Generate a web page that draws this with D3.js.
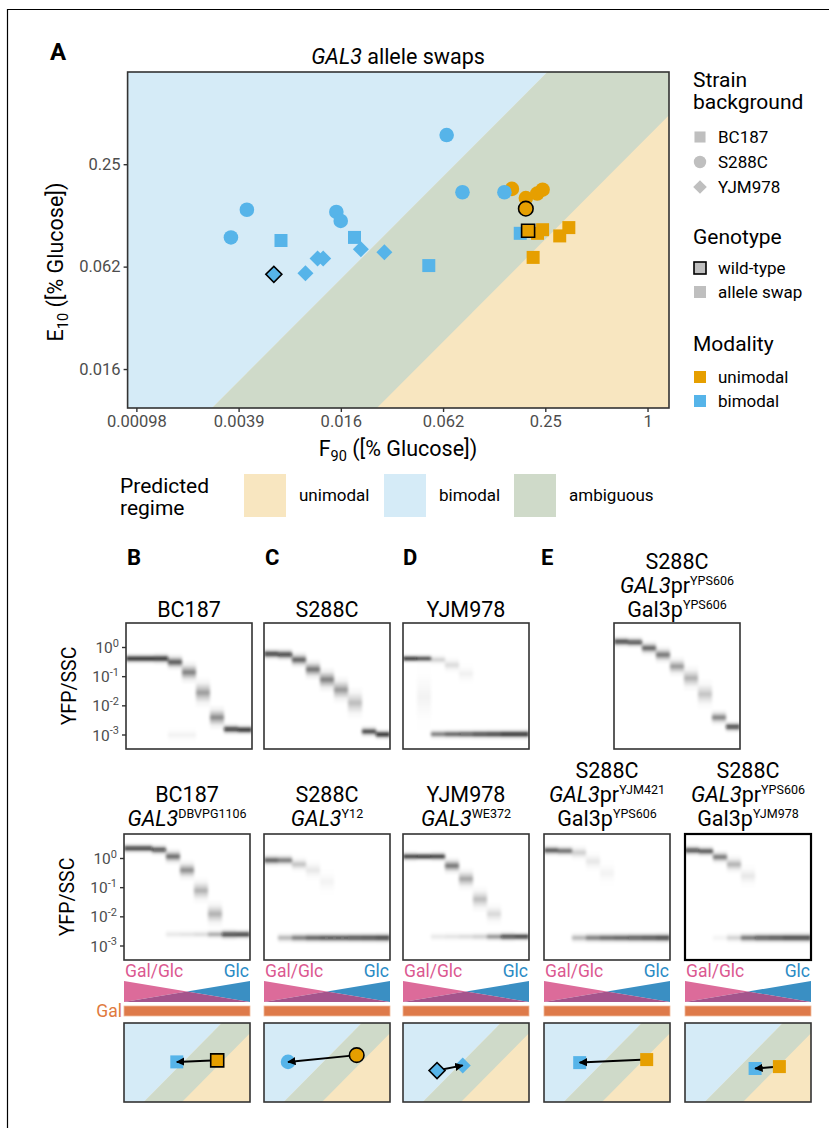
<!DOCTYPE html>
<html><head><meta charset="utf-8">
<script src="https://cdn.jsdelivr.net/npm/d3@7"></script>
<style>
body{margin:0;background:#fff;}
svg{display:block;font-family:Roboto,"Noto Sans",sans-serif;}
</style></head><body>
<svg id="fig" width="829" height="1128"></svg>
<script>
/* global d3 */
// ---- data ----------------------------------------------------------------
const xTickValues = [0.0009765625, 0.00390625, 0.015625, 0.0625, 0.25, 1];
const xTickLabels = ['0.00098', '0.0039', '0.016', '0.062', '0.25', '1'];
const yTickValues = [0.015625, 0.0625, 0.25];
const yTickLabels = ['0.016', '0.062', '0.25'];

// regime boundaries: E10 = ratio * F90
const regimeUpperRatio = 3.39;
const regimeLowerRatio = 0.362;

// id, modality, wild-type, F90, E10
const bc187 = [
  ['bc1', 'bimodal', false, 0.00694, 0.0890],
  ['bc2', 'bimodal', false, 0.0188, 0.0928],
  ['bc3', 'bimodal', false, 0.0515, 0.0634],
  ['bc4', 'bimodal', false, 0.178, 0.0981],
  ['bc5', 'unimodal', false, 0.225, 0.0981],
  ['bc6', 'unimodal', false, 0.241, 0.103],
  ['bc7', 'unimodal', false, 0.304, 0.0947],
  ['bc8', 'unimodal', false, 0.344, 0.106],
  ['bc9', 'unimodal', false, 0.212, 0.0708],
  ['bcWT', 'unimodal', true, 0.198, 0.1015],
];
const s288c = [
  ['s8', 'unimodal', false, 0.159, 0.179],
  ['s9', 'unimodal', false, 0.192, 0.158],
  ['s10', 'unimodal', false, 0.224, 0.168],
  ['s11', 'unimodal', false, 0.241, 0.177],
  ['s1', 'bimodal', false, 0.0656, 0.371],
  ['s2', 'bimodal', false, 0.0813, 0.171],
  ['s3', 'bimodal', false, 0.1436, 0.171],
  ['s4', 'bimodal', false, 0.00437, 0.135],
  ['s5', 'bimodal', false, 0.00352, 0.0928],
  ['s6', 'bimodal', false, 0.0147, 0.131],
  ['s7', 'bimodal', false, 0.0156, 0.116],
  ['sWT', 'unimodal', true, 0.192, 0.137],
];
const yjm978 = [
  ['y1', 'bimodal', false, 0.00967, 0.0571],
  ['y2', 'bimodal', false, 0.0114, 0.0698],
  ['y3', 'bimodal', false, 0.0123, 0.0698],
  ['y4', 'bimodal', false, 0.0205, 0.0791],
  ['y5', 'bimodal', false, 0.0282, 0.0759],
  ['yWT', 'bimodal', true, 0.0063, 0.0563],
];

// mini panels: start -> end
const miniArrows = [['bcWT', 'bc2'], ['sWT', 's5'], ['yWT', 'y5'], ['bc8', 'bc1'], ['bc9', 'bc3']];

// heatmaps: 9 glucose columns, each a list of [log10 YFP/SSC, darkness, half-width]
const heatLogDomain = [-3.48, 0.84];
const heatTicks = [0, -1, -2, -3];
const heatB1 = [
  [[-0.38, 1, 0.2]], [[-0.38, 1, 0.2]], [[-0.38, 0.95, 0.22]], [[-0.5, 0.72, 0.3], [-3.0, 0.05, 0.3]],
  [[-0.85, 0.52, 0.42], [-3.0, 0.05, 0.3]], [[-1.55, 0.4, 0.55]], [[-2.4, 0.48, 0.45]], [[-2.8, 0.9, 0.22]], [[-2.82, 1, 0.2]],
];
const heatC1 = [
  [[-0.22, 0.9, 0.22]], [[-0.24, 0.85, 0.24]], [[-0.42, 0.68, 0.3]], [[-0.75, 0.58, 0.38]],
  [[-1.1, 0.52, 0.45]], [[-1.45, 0.42, 0.5]], [[-1.9, 0.27, 0.6]], [[-2.88, 0.8, 0.22]], [[-2.98, 1, 0.2]],
];
const heatD1 = [
  [[-0.38, 1.0, 0.17]], [[-0.38, 0.8, 0.18], [-1.7, 0.05, 1.3]], [[-0.42, 0.2, 0.22], [-2.97, 0.58, 0.2]],
  [[-0.6, 0.15, 0.32], [-2.97, 0.72, 0.2]], [[-0.9, 0.06, 0.4], [-2.97, 0.78, 0.2]], [[-2.97, 0.88, 0.2]],
  [[-2.97, 0.92, 0.2]], [[-2.97, 1, 0.2]], [[-2.97, 1, 0.2]],
];
const heatE1 = [
  [[0.2, 0.85, 0.22]], [[0.18, 0.8, 0.22]], [[-0.02, 0.68, 0.27]], [[-0.25, 0.58, 0.32]],
  [[-0.65, 0.42, 0.38]], [[-1.05, 0.32, 0.48]], [[-1.6, 0.24, 0.55]], [[-2.4, 0.52, 0.3]], [[-2.72, 0.85, 0.22]],
];
const heatB2 = [
  [[0.35, 0.9, 0.2]], [[0.35, 0.9, 0.2]], [[0.3, 0.8, 0.22]], [[0.07, 0.62, 0.3], [-2.6, 0.1, 0.2]],
  [[-0.4, 0.47, 0.38], [-2.6, 0.12, 0.2]], [[-1.1, 0.32, 0.48], [-2.6, 0.15, 0.2]], [[-1.9, 0.32, 0.5], [-2.6, 0.37, 0.2]],
  [[-2.6, 0.85, 0.22]], [[-2.6, 0.9, 0.2]],
];
const heatC2 = [
  [[-0.06, 0.7, 0.24]], [[-0.06, 0.58, 0.24], [-2.72, 0.32, 0.22]], [[-0.2, 0.25, 0.3], [-2.72, 0.58, 0.22]],
  [[-0.4, 0.1, 0.4], [-2.72, 0.72, 0.22]], [[-0.8, 0.05, 0.5], [-2.72, 0.78, 0.22]], [[-2.72, 0.78, 0.22]],
  [[-2.72, 0.82, 0.22]], [[-2.72, 0.85, 0.22]], [[-2.72, 0.9, 0.22]],
];
const heatD2 = [
  [[0.07, 0.85, 0.2]], [[0.07, 0.95, 0.18]], [[0.07, 0.85, 0.2], [-2.68, 0.1, 0.2]], [[-0.25, 0.58, 0.32], [-2.68, 0.12, 0.2]],
  [[-0.7, 0.37, 0.42], [-2.68, 0.15, 0.2]], [[-1.4, 0.27, 0.48], [-2.68, 0.2, 0.2]], [[-1.9, 0.16, 0.42], [-2.68, 0.47, 0.2]],
  [[-2.68, 0.85, 0.2]], [[-2.68, 0.95, 0.18]],
];
const heatE2a = [
  [[0.28, 0.75, 0.22]], [[0.26, 0.65, 0.22]], [[0.2, 0.2, 0.3], [-2.72, 0.32, 0.22]], [[-0.1, 0.1, 0.4], [-2.72, 0.58, 0.22]],
  [[-0.5, 0.05, 0.5], [-2.72, 0.68, 0.22]], [[-2.72, 0.72, 0.22]], [[-2.72, 0.78, 0.22]], [[-2.72, 0.82, 0.22]], [[-2.72, 0.88, 0.22]],
];
const heatE2b = [
  [[0.28, 0.8, 0.22]], [[0.25, 0.75, 0.22]], [[0.05, 0.58, 0.26], [-2.72, 0.05, 0.2]], [[-0.2, 0.32, 0.35], [-2.72, 0.2, 0.22]],
  [[-0.6, 0.1, 0.45], [-2.72, 0.62, 0.22]], [[-2.72, 0.78, 0.22]], [[-2.72, 0.82, 0.22]], [[-2.72, 0.88, 0.22]], [[-2.72, 0.88, 0.22]],
];

// ---- styles / layout -----------------------------------------------------
const modColor = { unimodal: '#e69f00', bimodal: '#56b4e9' };
const regimeColor = { unimodal: '#f8e6c0', bimodal: '#d5ebf7', ambiguous: '#cfdac9' };
const shapeOf = { BC187: 'square', S288C: 'circle', YJM978: 'diamond' };
const allPoints = [];
[['BC187', bc187], ['S288C', s288c], ['YJM978', yjm978]].forEach(([strain, rows]) => {
  rows.forEach(([id, mod, wt, f, e]) => allPoints.push({ id, strain, mod, wt, f, e }));
});
const byId = Object.fromEntries(allPoints.map(p => [p.id, p]));

const svg = d3.select('#fig');
const defs = svg.append('defs');

// outer frame
svg.append('path').attr('d', 'M7.5,1128 V9.5 H829').attr('fill', 'none').attr('stroke', '#000').attr('stroke-width', 1.2);

function symbolPath(shape, scale = 1) {
  if (shape === 'circle') return d3.symbol(d3.symbolCircle, 167 * scale * scale)();
  if (shape === 'square') return d3.symbol(d3.symbolSquare, 169 * scale * scale)();
  return d3.symbol(d3.symbolSquare, 128 * scale * scale)();
}
function placeSymbol(sel, shape, x, y) {
  sel.attr('transform', `translate(${x},${y})` + (shape === 'diamond' ? ' rotate(45)' : ''));
}

function drawRegimes(g, x, y, id) {
  const [x0, x1] = x.range(), [y1, y0] = y.range();
  defs.append('clipPath').attr('id', id).append('rect').attr('x', x0).attr('y', y0).attr('width', x1 - x0).attr('height', y1 - y0);
  const cg = g.append('g').attr('clip-path', `url(#${id})`);
  cg.append('rect').attr('x', x0).attr('y', y0).attr('width', x1 - x0).attr('height', y1 - y0).attr('fill', regimeColor.unimodal);
  const fa = 2 ** -24, fb = 2 ** 10;
  const poly = pts => pts.map(([f, e]) => [x(f), y(e)].join(',')).join(' ');
  cg.append('polygon').attr('fill', regimeColor.ambiguous)
    .attr('points', poly([[fa, fa * regimeUpperRatio], [fb, fb * regimeUpperRatio], [fb, fb * regimeLowerRatio], [fa, fa * regimeLowerRatio]]));
  cg.append('polygon').attr('fill', regimeColor.bimodal)
    .attr('points', poly([[fa, fa * regimeUpperRatio], [fb, fb * regimeUpperRatio], [fa, fb * regimeUpperRatio]]));
}

// one <text> per block; each line is a tspan row placed at an absolute baseline
function multiLine(sel, x, y, lines, lineH, size, supSize) {
  lines.forEach((str, i) => {
    const row = sel.append('tspan').attr('x', x).attr('y', y + i * lineH);
    const re = /_([^_]+)_|\^([^_^]+)|([^_^]+)/g;
    let m;
    while ((m = re.exec(str))) {
      if (m[1]) row.append('tspan').attr('font-style', 'italic').text(m[1]);
      else if (m[2]) row.append('tspan').attr('font-size', supSize).attr('dy', -size * 0.38).text(m[2]);
      else row.append('tspan').text(m[3]);
    }
  });
}

// ---- panel A -------------------------------------------------------------
const xA = d3.scaleLog().base(2).domain([0.000867, 1.338]).range([127.6, 669]);
const yA = d3.scaleLog().base(2).domain([0.00922, 0.871]).range([408, 72]);
const gA = svg.append('g');
drawRegimes(gA, xA, yA, 'clipA');

const order = [...allPoints.filter(p => !p.wt && p.mod === 'unimodal'), ...allPoints.filter(p => !p.wt && p.mod === 'bimodal'), ...allPoints.filter(p => p.wt)];
order.forEach(p => {
  const s = gA.append('path').attr('d', symbolPath(shapeOf[p.strain])).attr('fill', modColor[p.mod])
    .attr('stroke', p.wt ? '#000' : 'none').attr('stroke-width', 1.6);
  placeSymbol(s, shapeOf[p.strain], xA(p.f), yA(p.e));
});
gA.append('rect').attr('x', 127.6).attr('y', 72).attr('width', 669 - 127.6).attr('height', 336)
  .attr('fill', 'none').attr('stroke', '#333').attr('stroke-width', 1.6);

const axX = gA.append('g').attr('transform', 'translate(0,408)')
  .call(d3.axisBottom(xA).tickValues(xTickValues).tickFormat((d, i) => xTickLabels[i]).tickSize(4).tickPadding(3));
const axY = gA.append('g').attr('transform', 'translate(127.6,0)')
  .call(d3.axisLeft(yA).tickValues(yTickValues).tickFormat((d, i) => yTickLabels[i]).tickSize(4).tickPadding(3));
[axX, axY].forEach(a => {
  a.select('.domain').remove();
  a.selectAll('.tick line').attr('stroke', '#333').attr('stroke-width', 1.4);
  a.selectAll('.tick text').attr('fill', '#4d4d4d').attr('font-size', 16.5).attr('font-family', 'Roboto');
});

svg.append('text').attr('x', 50).attr('y', 60).attr('font-size', 24).attr('font-weight', 700).text('A');
multiLine(svg.append('text').attr('text-anchor', 'middle').attr('font-size', 21.5), 398, 64, ['_GAL3_ allele swaps'], 0, 21.5, 13);

const xl = svg.append('text').attr('x', 398).attr('y', 456).attr('text-anchor', 'middle').attr('font-size', 21.5);
xl.append('tspan').text('F');
xl.append('tspan').attr('font-size', 14.5).attr('dy', 4.5).text('90');
xl.append('tspan').attr('dy', -4.5).text(' ([% Glucose])');
const yl = svg.append('text').attr('transform', 'translate(63,262) rotate(-90)').attr('text-anchor', 'middle').attr('font-size', 21.5);
yl.append('tspan').text('E');
yl.append('tspan').attr('font-size', 14.5).attr('dy', 4.5).text('10');
yl.append('tspan').attr('dy', -4.5).text(' ([% Glucose])');

// legends
const lg = svg.append('g').attr('font-size', 17);
multiLine(lg.append('text').attr('font-size', 21), 693, 87, ['Strain', 'background'], 22, 21, 12);
['BC187', 'S288C', 'YJM978'].forEach((s, i) => {
  const cy = 137 + i * 25;
  placeSymbol(lg.append('path').attr('d', symbolPath(shapeOf[s], 0.85)).attr('fill', '#bfbfbf'), shapeOf[s], 700, cy);
  lg.append('text').attr('x', 718).attr('y', cy + 6).text(s);
});
lg.append('text').attr('x', 693).attr('y', 244).attr('font-size', 21).text('Genotype');
[['wild-type', true], ['allele swap', false]].forEach(([s, wt], i) => {
  const cy = 268 + i * 24;
  lg.append('rect').attr('x', 694).attr('y', cy - 6).attr('width', 12).attr('height', 12).attr('fill', '#bfbfbf')
    .attr('stroke', wt ? '#000' : 'none').attr('stroke-width', 1.6);
  lg.append('text').attr('x', 718).attr('y', cy + 6).text(s);
});
lg.append('text').attr('x', 693).attr('y', 351).attr('font-size', 21).text('Modality');
['unimodal', 'bimodal'].forEach((s, i) => {
  const cy = 377 + i * 24;
  lg.append('rect').attr('x', 694).attr('y', cy - 6).attr('width', 12).attr('height', 12).attr('fill', modColor[s]);
  lg.append('text').attr('x', 718).attr('y', cy + 6).text(s);
});

const rg = svg.append('g').attr('font-size', 17);
multiLine(rg.append('text').attr('font-size', 21), 120, 493, ['Predicted', 'regime'], 22, 21, 12);
[['unimodal', 244], ['bimodal', 384], ['ambiguous', 514]].forEach(([s, x]) => {
  rg.append('rect').attr('x', x).attr('y', 474).attr('width', 42).attr('height', 43).attr('fill', regimeColor[s]);
  rg.append('text').attr('x', x + 55).attr('y', 501).text(s);
});

// ---- heatmaps ------------------------------------------------------------
const grad = defs.append('linearGradient').attr('id', 'peak').attr('x1', 0).attr('y1', 0).attr('x2', 0).attr('y2', 1);
[[0, 0], [0.2, 0.12], [0.35, 0.5], [0.5, 1], [0.65, 0.5], [0.8, 0.12], [1, 0]].forEach(([o, a]) => {
  grad.append('stop').attr('offset', o).attr('stop-color', '#0a0a0a').attr('stop-opacity', a);
});
defs.append('filter').attr('id', 'soft').attr('x', '-5%').attr('y', '-5%').attr('width', '110%').attr('height', '110%')
  .append('feGaussianBlur').attr('stdDeviation', '1.6 1');

const HW = 126, HH = 126;
let clipN = 0;
function drawHeat(x0, y0, cols, opts = {}) {
  const g = svg.append('g');
  const xs = d3.scaleBand().domain(d3.range(cols.length)).range([x0, x0 + HW]);
  const ys = d3.scaleLinear().domain(heatLogDomain).range([y0 + HH, y0]);
  const cid = 'hc' + (clipN++);
  defs.append('clipPath').attr('id', cid).append('rect').attr('x', x0).attr('y', y0).attr('width', HW).attr('height', HH);
  const cells = cols.flatMap((peaks, c) => peaks.map(([m, a, w]) => ({ c, m, a, w })));
  g.append('g').attr('clip-path', `url(#${cid})`).append('g').attr('filter', 'url(#soft)')
    .selectAll('rect').data(cells).join('rect')
    .attr('x', d => xs(d.c)).attr('width', xs.bandwidth())
    .attr('y', d => ys(d.m + d.w)).attr('height', d => ys(d.m - d.w) - ys(d.m + d.w))
    .attr('fill', 'url(#peak)').attr('opacity', d => d.a);
  g.append('rect').attr('x', x0).attr('y', y0).attr('width', HW).attr('height', HH).attr('fill', 'none')
    .attr('stroke', opts.dark ? '#000' : '#333').attr('stroke-width', opts.dark ? 2.2 : 1.6);
  if (opts.axis) {
    heatTicks.forEach(t => {
      g.append('line').attr('x1', x0 - 4).attr('x2', x0).attr('y1', ys(t)).attr('y2', ys(t)).attr('stroke', '#333').attr('stroke-width', 1.4);
      const tx = g.append('text').attr('x', x0 - 7).attr('y', ys(t) + 5.5).attr('text-anchor', 'end').attr('fill', '#4d4d4d').attr('font-size', 15.5);
      tx.append('tspan').text('10');
      tx.append('tspan').attr('font-size', 11).attr('dy', -6.5).text(String(t));
    });
    svg.append('text').attr('transform', `translate(${x0 - 50},${y0 + HH / 2}) rotate(-90)`).attr('text-anchor', 'middle')
      .attr('font-size', 19.5).text('YFP/SSC');
  }
  return g;
}
function drawTitle(cx, lastBaseline, lines) {
  const t = svg.append('text').attr('text-anchor', 'middle').attr('font-size', 21.5);
  multiLine(t, cx, lastBaseline - (lines.length - 1) * 24, lines, 24, 21.5, 12.5);
}

const topPanels = [
  { x: 126, heat: heatB1, title: ['BC187'], axis: true },
  { x: 264, heat: heatC1, title: ['S288C'] },
  { x: 403, heat: heatD1, title: ['YJM978'] },
  { x: 614, heat: heatE1, title: ['S288C', '_GAL3_pr^YPS606', 'Gal3p^YPS606'] },
];
topPanels.forEach(p => {
  drawHeat(p.x, 623, p.heat, { axis: p.axis });
  drawTitle(p.x + HW / 2, 617, p.title);
});
[['B', 127], ['C', 265], ['D', 403], ['E', 541]].forEach(([l, x]) => {
  svg.append('text').attr('x', x).attr('y', 565).attr('font-size', 22).attr('font-weight', 700).text(l);
});

const botPanels = [
  { x: 124, heat: heatB2, title: ['BC187', '_GAL3_^DBVPG1106'], axis: true },
  { x: 264, heat: heatC2, title: ['S288C', '_GAL3_^Y12'] },
  { x: 403, heat: heatD2, title: ['YJM978', '_GAL3_^WE372'] },
  { x: 544, heat: heatE2a, title: ['S288C', '_GAL3_pr^YJM421', 'Gal3p^YPS606'] },
  { x: 685, heat: heatE2b, title: ['S288C', '_GAL3_pr^YPS606', 'Gal3p^YJM978'], dark: true },
];
defs.append('marker').attr('id', 'arrow').attr('viewBox', '0 0 10 10').attr('refX', 9).attr('refY', 5)
  .attr('markerWidth', 4.2).attr('markerHeight', 4.2).attr('orient', 'auto').attr('markerUnits', 'strokeWidth')
  .append('path').attr('d', 'M0,0 L10,5 L0,10 Z').attr('fill', '#000');

botPanels.forEach((p, i) => {
  drawHeat(p.x, 834, p.heat, { axis: p.axis, dark: p.dark });
  drawTitle(p.x + HW / 2, 826, p.title);
  const L = p.x, R = p.x + HW, M = p.x + HW / 2;
  // media gradient
  svg.append('text').attr('x', L + 1).attr('y', 977).attr('font-size', 17.5).attr('fill', '#db5890').text('Gal/Glc');
  svg.append('text').attr('x', R - 1).attr('y', 977).attr('text-anchor', 'end').attr('font-size', 17.5).attr('fill', '#2a8ac4').text('Glc');
  const t0 = 981, t1 = 1002, tm = (t0 + t1) / 2;
  svg.append('polygon').attr('points', `${L},${t0} ${L},${t1} ${M},${tm}`).attr('fill', '#dc6b9a');
  svg.append('polygon').attr('points', `${R},${t0} ${R},${t1} ${M},${tm}`).attr('fill', '#3a8fc3');
  svg.append('polygon').attr('points', `${L},${t1} ${R},${t1} ${M},${tm}`).attr('fill', '#a5548c');
  svg.append('rect').attr('x', L).attr('y', 1006).attr('width', HW).attr('height', 10).attr('fill', '#de7a4a')
    .attr('stroke', '#f0b89a').attr('stroke-width', 0.8);
  if (i === 0) svg.append('text').attr('x', L - 2).attr('y', 1017).attr('text-anchor', 'end').attr('font-size', 17.5).attr('fill', '#e07a3e').text('Gal');

  // mini regime panel
  const xm = d3.scaleLog().base(2).domain(xA.domain()).range([L, R]);
  const ym = d3.scaleLog().base(2).domain(yA.domain()).range([1102, 1023]);
  const gm = svg.append('g');
  drawRegimes(gm, xm, ym, 'clipM' + i);
  const [a, b] = miniArrows[i].map(id => byId[id]);
  const mark = (pt) => {
    const s = gm.append('path').attr('d', symbolPath(shapeOf[pt.strain])).attr('fill', modColor[pt.mod])
      .attr('stroke', pt.wt ? '#000' : 'none').attr('stroke-width', 1.6);
    placeSymbol(s, shapeOf[pt.strain], xm(pt.f), ym(pt.e));
  };
  mark(b);
  gm.append('line').attr('x1', xm(a.f)).attr('y1', ym(a.e)).attr('x2', xm(b.f)).attr('y2', ym(b.e))
    .attr('stroke', '#000').attr('stroke-width', 2).attr('marker-end', 'url(#arrow)');
  mark(a);
  gm.append('rect').attr('x', L).attr('y', 1023).attr('width', HW).attr('height', 79).attr('fill', 'none')
    .attr('stroke', '#333').attr('stroke-width', 1.6);
});
</script>
</body></html>
